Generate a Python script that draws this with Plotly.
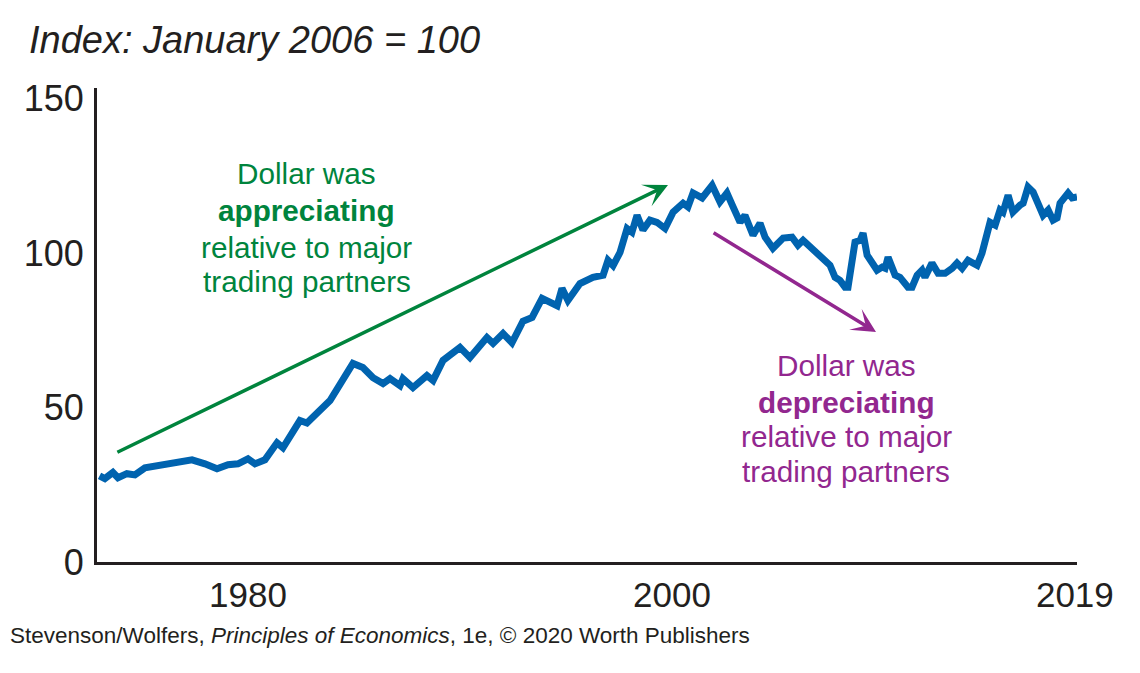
import plotly.graph_objects as go

# Dollar index (Jan 2006 = 100)
years = [1973.0, 1973.25, 1973.63, 1973.87, 1974.29, 1974.67, 1975.14, 1976.08, 1976.56, 1977.36,
         1977.97, 1978.54, 1979.06, 1979.53, 1980.0, 1980.33, 1980.80, 1981.37,
         1981.65, 1982.45, 1982.78, 1983.54, 1983.87,
         1984.95, 1985.42, 1985.90, 1986.37, 1986.70, 1987.17, 1987.31, 1987.78, 1988.44, 1988.73,
         1989.20, 1990.00, 1990.47, 1991.27, 1991.56, 1992.03, 1992.45, 1992.97, 1993.40, 1993.87,
         1994.58, 1994.81, 1995.09, 1995.66, 1996.27, 1996.75, 1996.98, 1997.22, 1997.55, 1997.88,
         1998.11, 1998.35, 1998.63, 1998.96, 1999.29, 1999.67, 2000.05, 2000.52, 2000.75, 2000.99,
         2001.42, 2001.89, 2002.26, 2002.59, 2002.88, 2003.21, 2003.44, 2003.82, 2004.15, 2004.39,
         2004.76, 2005.24, 2005.66, 2005.94, 2006.18, 2006.60, 2006.89, 2007.45, 2007.69, 2007.92,
         2008.16, 2008.30, 2008.63, 2008.87, 2009.01, 2009.20, 2009.67, 2009.91, 2010.05, 2010.19,
         2010.52, 2010.75, 2011.13, 2011.32, 2011.56, 2011.79, 2011.93, 2012.26, 2012.55, 2012.88,
         2013.21, 2013.44, 2013.68, 2013.96, 2014.39, 2014.62, 2015.00, 2015.24, 2015.47, 2015.61,
         2015.85, 2016.08, 2016.42, 2016.56, 2016.79, 2017.03, 2017.50, 2017.74, 2017.97, 2018.16,
         2018.30, 2018.68, 2018.87, 2019.10]
index_values = [27.9, 27.0, 29.0, 27.3, 28.6, 28.2, 30.5, 31.5, 32.1, 33.1,
                31.8, 30.2, 31.5, 31.8, 33.4, 31.8, 33.1, 38.6,
                37.0, 45.8, 45.0, 50.6, 52.3,
                64.3, 63.0, 59.7, 57.8, 59.4, 57.1, 59.4, 56.5, 60.4, 58.8,
                65.3, 69.5, 66.2, 72.7, 70.8, 74.0, 71.0, 78.0, 79.2, 85.4,
                83.0, 88.6, 84.7, 90.2, 92.2, 92.9, 97.7, 96.0, 100.3, 108.0,
                106.8, 112.3, 107.5, 110.7, 110.0, 108.0, 113.3, 116.2, 115.0, 119.5,
                117.9, 122.0, 116.6, 119.5, 115.0, 110.0, 112.3, 105.8, 109.7, 105.2,
                101.6, 104.9, 105.2, 102.6, 104.2, 101.6, 100.3, 96.1, 92.2, 91.2,
                89.0, 89.0, 103.6, 104.2, 106.5, 99.4, 94.5, 95.5, 95.1, 98.7,
                92.9, 92.2, 89.0, 89.0, 92.9, 94.5, 92.2, 96.8, 93.5, 93.5,
                95.1, 96.8, 95.1, 97.7, 96.1, 100.0, 110.0, 109.1, 114.0, 113.3,
                118.8, 113.3, 115.6, 116.2, 121.4, 119.8, 112.3, 114.0, 110.7, 111.4,
                116.2, 119.5, 117.9, 118.2]

x_tick_vals = [1980, 2000, 2019]
x_tick_text = ["1980", "2000", "2019"]
y_tick_vals = [0, 50, 100, 150]
y_tick_text = ["0", "50", "100", "150"]

title_text = "<i>Index: January 2006 = 100</i>"
green_lines = ["Dollar was", "<b>appreciating</b>", "relative to major", "trading partners"]
purple_lines = ["Dollar was", "<b>depreciating</b>", "relative to major", "trading partners"]
footer_text = "Stevenson/Wolfers, <i>Principles of Economics</i>, 1e, \u00a9 2020 Worth Publishers"

BLUE = "#0063af"
GREEN = "#00843d"
PURPLE = "#92278f"
INK = "#231f20"
FONT = "Liberation Sans, Arial, Helvetica, sans-serif"

fig = go.Figure()
fig.add_trace(go.Scatter(x=years, y=index_values, mode="lines",
                         line=dict(color=BLUE, width=7), hoverinfo="skip",
                         showlegend=False))

annotations = []
# green arrow
annotations.append(dict(x=1999.81, y=122.1, ax=1973.77, ay=35.3, xref="x", yref="y",
                        axref="x", ayref="y", showarrow=True, arrowhead=3, arrowsize=1.15,
                        arrowwidth=3.5, arrowcolor=GREEN, text=""))
# purple arrow
annotations.append(dict(x=2009.62, y=74.5, ax=2001.89, ay=106.9, xref="x", yref="y",
                        axref="x", ayref="y", showarrow=True, arrowhead=3, arrowsize=1.15,
                        arrowwidth=3.5, arrowcolor=PURPLE, text=""))

green_y = [125.7, 113.7, 102.0, 91.0]
for txt, yy in zip(green_lines, green_y):
    annotations.append(dict(x=1982.78, y=yy, xref="x", yref="y", text=txt, showarrow=False,
                            xanchor="center", yanchor="middle",
                            font=dict(family=FONT, size=29.7, color=GREEN)))
purple_y = [63.5, 51.5, 40.5, 29.2]
for txt, yy in zip(purple_lines, purple_y):
    annotations.append(dict(x=2008.21, y=yy, xref="x", yref="y", text=txt, showarrow=False,
                            xanchor="center", yanchor="middle",
                            font=dict(family=FONT, size=29.7, color=PURPLE)))

annotations.append(dict(x=-0.0714, y=1.101, xref="paper", yref="paper", text=title_text,
                        showarrow=False, xanchor="left", yanchor="middle",
                        font=dict(family=FONT, size=38, color=INK)))
annotations.append(dict(x=-0.0908, y=-0.156, xref="paper", yref="paper", text=footer_text,
                        showarrow=False, xanchor="left", yanchor="middle",
                        font=dict(family=FONT, size=22.5, color=INK)))

# the page places the figure 8px in from the top-left corner
fig.update_layout(
    width=1132, height=665,
    margin=dict(l=89, r=63, t=80, b=111),
    paper_bgcolor="white", plot_bgcolor="white",
    annotations=annotations,
    xaxis=dict(range=[1972.88, 2019.1], tickvals=x_tick_vals, ticktext=x_tick_text,
               showgrid=False, zeroline=False, showline=True, linewidth=3, linecolor=INK,
               ticks="", ticklabelstandoff=0,
               tickfont=dict(family=FONT, size=35, color=INK)),
    yaxis=dict(range=[0, 153.5], tickvals=y_tick_vals, ticktext=y_tick_text,
               showgrid=False, zeroline=False, showline=True, linewidth=3, linecolor=INK,
               ticks="", ticklabelstandoff=3,
               tickfont=dict(family=FONT, size=36, color=INK)),
)

fig.write_html("out.html")
